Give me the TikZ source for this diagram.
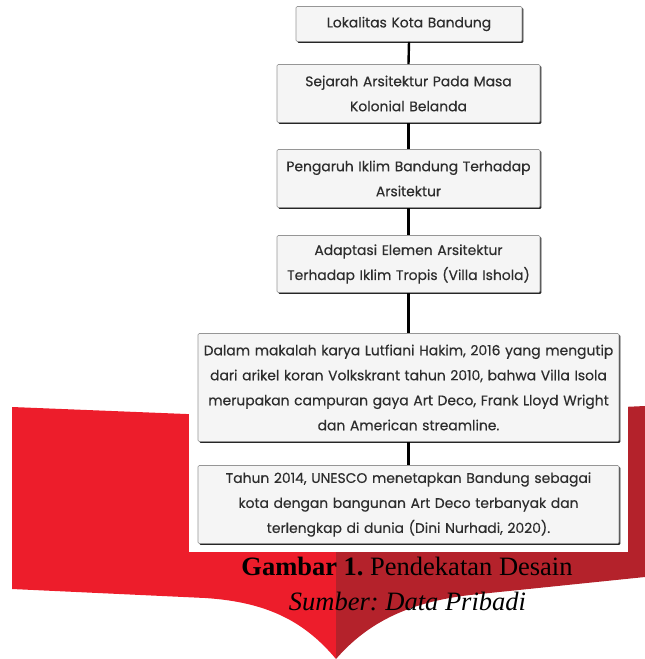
\documentclass[tikz,border=0pt]{standalone}
\usepackage{fontspec}
\setmainfont{Liberation Serif}
\newfontfamily\boxfont[FakeBold=0.35]{Poppins}
\usetikzlibrary{shadows}
\definecolor{redL}{RGB}{237,29,43}
\definecolor{redR}{RGB}{180,34,43}
\definecolor{boxfill}{RGB}{245,245,245}
\definecolor{boxline}{RGB}{150,150,150}
\definecolor{txt}{RGB}{45,45,45}
\frenchspacing
\begin{document}
\begin{tikzpicture}[x=1pt,y=-1pt,
  flowbox/.style={draw=boxline, line width=0.6pt, fill=boxfill, rounded corners=1.2pt,
    inner sep=0pt, align=center, text=txt,
    font=\boxfont\fontsize{13.9}{25}\selectfont,
    drop shadow={shadow xshift=1.4pt, shadow yshift=-1.4pt, fill=black!85, opacity=1}},
  link/.style={line width=2.4pt, black},
  caption/.style={font=\fontsize{26.5}{30}\selectfont, anchor=base, text=black}]
\useasboundingbox (0,0) rectangle (645,659);
% red ribbon background
\fill[redL] (12,407) -- (336,420) -- (336,659)
  .. controls (305,622) and (268,602) .. (205,598) -- (12,589) -- cycle;
\fill[redR] (336,420) -- (645,406) -- (645,577) -- (470,595)
  .. controls (410,602) and (368,622) .. (336,659) -- cycle;
% white panel of the chart
\fill[white] (189,395) rectangle (628,552);
% boxes
\node[flowbox, minimum width=226pt, text width=226pt, minimum height=35pt] (b1) at (409,24)
  {Lokalitas Kota Bandung};
\node[flowbox, minimum width=263pt, text width=263pt, minimum height=58pt] (b2) at (408.5,93.5)
  {Sejarah Arsitektur Pada Masa\\Kolonial Belanda};
\node[flowbox, minimum width=263pt, text width=263pt, minimum height=58pt] (b3) at (408.5,178.5)
  {Pengaruh Iklim Bandung Terhadap\\Arsitektur};
\node[flowbox, minimum width=263pt, text width=263pt, minimum height=57pt] (b4) at (408.5,264)
  {Adaptasi Elemen Arsitektur\\Terhadap Iklim Tropis (Villa Ishola)};
\node[flowbox, minimum width=421pt, text width=421pt, minimum height=108pt] (b5) at (408.5,387.5)
  {Dalam makalah karya Lutfiani Hakim, 2016 yang mengutip\\dari arikel koran Volkskrant tahun 2010, bahwa Villa Isola\\merupakan campuran gaya Art Deco, Frank Lloyd Wright\\dan American streamline.};
\node[flowbox, minimum width=421pt, text width=421pt, minimum height=78pt] (b6) at (408.5,504.5)
  {Tahun 2014, UNESCO menetapkan Bandung sebagai\\kota dengan bangunan Art Deco terbanyak dan\\terlengkap di dunia (Dini Nurhadi, 2020).};
% connectors
\draw[link] (b1.south) -- (b2.north);
\draw[link] (b2.south) -- (b3.north);
\draw[link] (b3.south) -- (b4.north);
\draw[link] (b4.south) -- (b5.north);
\draw[link] (b5.south) -- (b6.north);
% caption
\node[caption] (cap) at (407,575) {\textbf{Gambar 1.} Pendekatan Desain};
\node[caption, font=\fontsize{26.5}{30}\selectfont\itshape] (src) at (407.5,610) {Sumber: Data Pribadi};
\end{tikzpicture}
\end{document}
